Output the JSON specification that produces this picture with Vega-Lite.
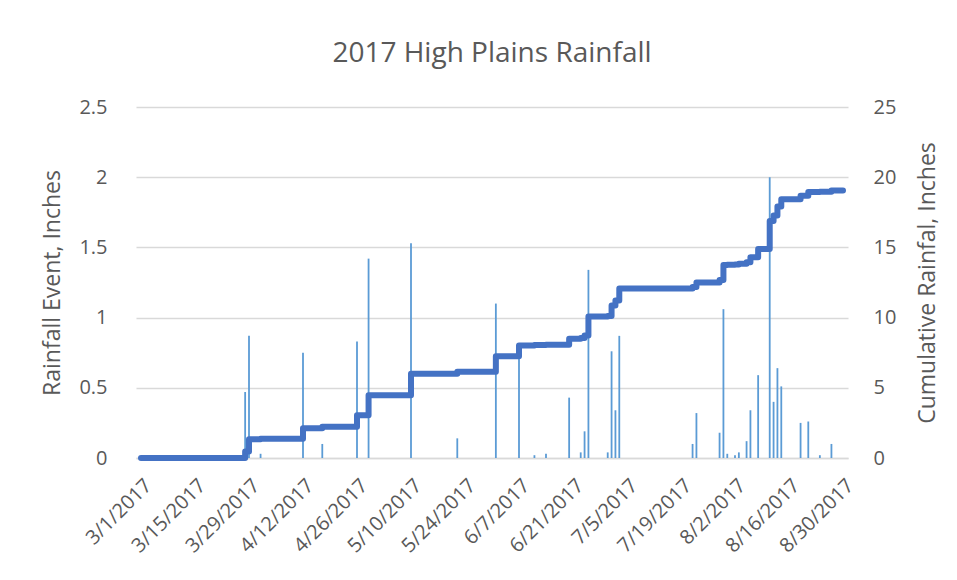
{
  "$schema": "https://vega.github.io/schema/vega-lite/v6.json",
  "width": 712,
  "height": 351,
  "autosize": {"type": "none"},
  "padding": {"left": 136, "top": 107, "right": 109, "bottom": 122},
  "background": "white",
  "config": {
    "view": {"stroke": null},
    "font": "Open Sans",
    "axis": {"labelColor": "#595959", "titleColor": "#595959", "labelFont": "Open Sans", "titleFont": "Open Sans", "titleFontWeight": "normal"}
  },
  "title": {
    "text": "2017 High Plains Rainfall",
    "fontSize": 28,
    "font": "Open Sans",
    "fontWeight": "normal",
    "color": "#595959",
    "anchor": "middle",
    "baseline": "alphabetic",
    "offset": 7
  },
  "data": {
    "values": [
      {"date": "2017-03-01", "rain": 0, "cum": 0},
      {"date": "2017-03-28", "rain": 0.47, "cum": 0.47},
      {"date": "2017-03-29", "rain": 0.87, "cum": 1.34},
      {"date": "2017-04-01", "rain": 0.03, "cum": 1.37},
      {"date": "2017-04-12", "rain": 0.75, "cum": 2.12},
      {"date": "2017-04-17", "rain": 0.10, "cum": 2.22},
      {"date": "2017-04-26", "rain": 0.83, "cum": 3.05},
      {"date": "2017-04-29", "rain": 1.42, "cum": 4.47},
      {"date": "2017-05-10", "rain": 1.53, "cum": 6.00},
      {"date": "2017-05-22", "rain": 0.14, "cum": 6.14},
      {"date": "2017-06-01", "rain": 1.10, "cum": 7.24},
      {"date": "2017-06-07", "rain": 0.78, "cum": 8.02},
      {"date": "2017-06-11", "rain": 0.02, "cum": 8.04},
      {"date": "2017-06-14", "rain": 0.03, "cum": 8.07},
      {"date": "2017-06-20", "rain": 0.43, "cum": 8.50},
      {"date": "2017-06-23", "rain": 0.04, "cum": 8.54},
      {"date": "2017-06-24", "rain": 0.19, "cum": 8.73},
      {"date": "2017-06-25", "rain": 1.34, "cum": 10.07},
      {"date": "2017-06-30", "rain": 0.04, "cum": 10.11},
      {"date": "2017-07-01", "rain": 0.76, "cum": 10.87},
      {"date": "2017-07-02", "rain": 0.34, "cum": 11.21},
      {"date": "2017-07-03", "rain": 0.87, "cum": 12.08},
      {"date": "2017-07-22", "rain": 0.10, "cum": 12.18},
      {"date": "2017-07-23", "rain": 0.32, "cum": 12.50},
      {"date": "2017-07-29", "rain": 0.18, "cum": 12.68},
      {"date": "2017-07-30", "rain": 1.06, "cum": 13.74},
      {"date": "2017-07-31", "rain": 0.03, "cum": 13.77},
      {"date": "2017-08-02", "rain": 0.02, "cum": 13.79},
      {"date": "2017-08-03", "rain": 0.04, "cum": 13.83},
      {"date": "2017-08-05", "rain": 0.12, "cum": 13.95},
      {"date": "2017-08-06", "rain": 0.34, "cum": 14.29},
      {"date": "2017-08-08", "rain": 0.59, "cum": 14.88},
      {"date": "2017-08-11", "rain": 2.00, "cum": 16.88},
      {"date": "2017-08-12", "rain": 0.40, "cum": 17.28},
      {"date": "2017-08-13", "rain": 0.64, "cum": 17.92},
      {"date": "2017-08-14", "rain": 0.51, "cum": 18.43},
      {"date": "2017-08-19", "rain": 0.25, "cum": 18.68},
      {"date": "2017-08-21", "rain": 0.26, "cum": 18.94},
      {"date": "2017-08-24", "rain": 0.02, "cum": 18.96},
      {"date": "2017-08-27", "rain": 0.10, "cum": 19.06},
      {"date": "2017-08-30", "rain": 0, "cum": 19.06}
    ]
  },
  "encoding": {
    "x": {
      "field": "date",
      "type": "temporal",
      "scale": {
        "type": "utc",
        "domain": [{"year": 2017, "month": 3, "date": 1, "utc": true}, {"year": 2017, "month": 8, "date": 30, "utc": true}]
      },
      "axis": {
        "title": null,
        "format": "%-m/%-d/%Y",
        "values": [
          {"year": 2017, "month": 3, "date": 1, "utc": true},
          {"year": 2017, "month": 3, "date": 15, "utc": true},
          {"year": 2017, "month": 3, "date": 29, "utc": true},
          {"year": 2017, "month": 4, "date": 12, "utc": true},
          {"year": 2017, "month": 4, "date": 26, "utc": true},
          {"year": 2017, "month": 5, "date": 10, "utc": true},
          {"year": 2017, "month": 5, "date": 24, "utc": true},
          {"year": 2017, "month": 6, "date": 7, "utc": true},
          {"year": 2017, "month": 6, "date": 21, "utc": true},
          {"year": 2017, "month": 7, "date": 5, "utc": true},
          {"year": 2017, "month": 7, "date": 19, "utc": true},
          {"year": 2017, "month": 8, "date": 2, "utc": true},
          {"year": 2017, "month": 8, "date": 16, "utc": true},
          {"year": 2017, "month": 8, "date": 30, "utc": true}
        ],
        "labelAngle": -45,
        "labelFontSize": 20,
        "labelPadding": 17,
        "ticks": false,
        "grid": false,
        "domainColor": "#d9d9d9",
        "domainWidth": 1.5,
        "labelOverlap": false,
        "labelBound": false,
        "labelFlush": false
      }
    }
  },
  "layer": [
    {
      "mark": {"type": "bar", "width": 1.8, "color": "#5B9BD5"},
      "encoding": {
        "y": {
          "field": "rain",
          "type": "quantitative",
          "scale": {"domain": [0, 2.5]},
          "axis": {
            "title": "Rainfall Event, Inches",
            "orient": "left",
            "values": [0, 0.5, 1, 1.5, 2, 2.5],
            "format": "~f",
            "labelFontSize": 20,
            "titleFontSize": 23,
            "labelPadding": 29,
            "ticks": false,
            "domain": false,
            "gridColor": "#d9d9d9",
            "gridWidth": 1.5,
            "titleX": -84,
            "titleY": 175.5,
            "titleAngle": -90,
            "titleAlign": "center",
            "titleBaseline": "middle"
          }
        }
      }
    },
    {
      "mark": {"type": "line", "interpolate": "step-after", "color": "#4472C4", "strokeWidth": 6, "strokeJoin": "round", "strokeCap": "round"},
      "encoding": {
        "y": {
          "field": "cum",
          "type": "quantitative",
          "scale": {"domain": [0, 25]},
          "axis": {
            "title": "Cumulative Rainfal, Inches",
            "orient": "right",
            "values": [0, 5, 10, 15, 20, 25],
            "labelFontSize": 20,
            "titleFontSize": 23,
            "labelPadding": 25,
            "ticks": false,
            "domain": false,
            "grid": false,
            "titleX": 79,
            "titleY": 175.5,
            "titleAngle": -90,
            "titleAlign": "center",
            "titleBaseline": "middle"
          }
        }
      }
    }
  ],
  "resolve": {"scale": {"y": "independent"}}
}
